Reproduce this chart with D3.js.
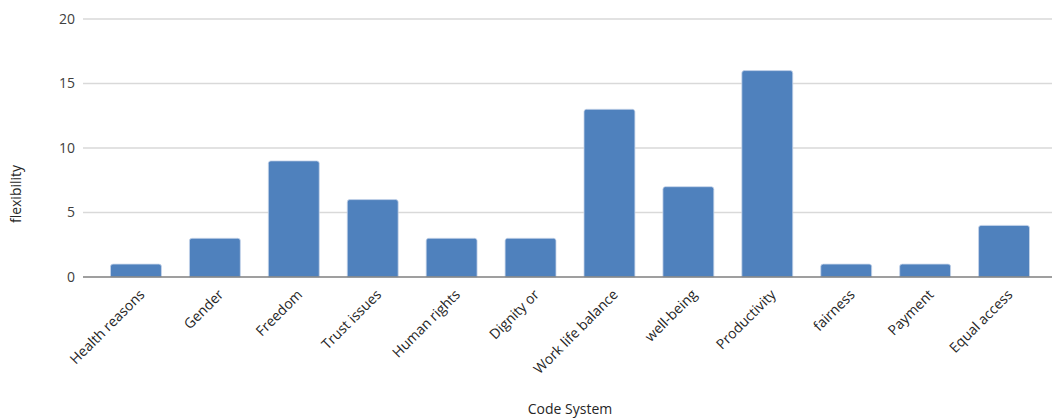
<!DOCTYPE html>
<html>
<head>
<meta charset="utf-8">
<script src="https://cdn.jsdelivr.net/npm/d3@7"></script>
<style>
  html, body { margin: 0; padding: 0; background: #fff; }
  svg { display: block; font-family: "Open Sans", Lato, sans-serif; }
</style>
</head>
<body>
<svg id="chart" width="1052" height="420"></svg>
<script>
// Coded segments per category
const categories = ["Health reasons", "Gender", "Freedom", "Trust issues", "Human rights", "Dignity or",
  "Work life balance", "well-being", "Productivity", "fairness", "Payment", "Equal access"];
const values = [1, 3, 9, 6, 3, 3, 13, 7, 16, 1, 1, 4];
const yTicks = [0, 5, 10, 15, 20];
const yTitle = "flexibility";
const xTitle = "Code System";

const svg = d3.select("#chart");
const plot = { left: 83, right: 1052, top: 19, bottom: 277 };

const x = d3.scaleBand()
  .domain(categories)
  .range([96.5, 1043.5])
  .paddingInner(0.355)
  .paddingOuter(0.1775);

const y = d3.scaleLinear()
  .domain([0, 20])
  .range([plot.bottom, plot.top]);

// horizontal gridlines
svg.append("g")
  .selectAll("line")
  .data(yTicks.filter(d => d !== 0))
  .join("line")
  .attr("x1", plot.left).attr("x2", plot.right)
  .attr("y1", d => y(d)).attr("y2", d => y(d))
  .attr("stroke", "#d9d9d9").attr("stroke-width", 1.3);

// y tick labels
svg.append("g")
  .selectAll("text")
  .data(yTicks)
  .join("text")
  .attr("x", 75).attr("y", d => y(d))
  .attr("dy", "0.35em")
  .attr("text-anchor", "end")
  .attr("font-size", 14)
  .attr("fill", "#404040")
  .text(d => d);

// bars
svg.append("g")
  .selectAll("path")
  .data(values)
  .join("path")
  .attr("d", (d, i) => {
    const x0 = x(categories[i]), w = x.bandwidth();
    const y0 = y(d), y1 = y(0), r = 2.5;
    return `M${x0},${y1}V${y0 + r}Q${x0},${y0} ${x0 + r},${y0}H${x0 + w - r}Q${x0 + w},${y0} ${x0 + w},${y0 + r}V${y1}Z`;
  })
  .attr("fill", "#4f81bd")
  .attr("stroke", "#c6d4ea")
  .attr("stroke-width", 0.8);

// baseline
svg.append("line")
  .attr("x1", plot.left).attr("x2", plot.right)
  .attr("y1", y(0)).attr("y2", y(0))
  .attr("stroke", "#7f7f7f").attr("stroke-width", 1.3);

// category labels
svg.append("g")
  .selectAll("text")
  .data(categories)
  .join("text")
  .attr("transform", d => `translate(${x(d) + x.bandwidth() / 2 + 6},${y(0) + 15}) rotate(-45)`)
  .attr("text-anchor", "end")
  .attr("dy", "0.35em")
  .attr("font-size", 14)
  .attr("fill", "#262626")
  .text(d => d);

// axis titles
svg.append("text")
  .attr("transform", "translate(21,194) rotate(-90)")
  .attr("text-anchor", "middle")
  .attr("font-size", 14)
  .attr("fill", "#262626")
  .text(yTitle);

svg.append("text")
  .attr("x", 570).attr("y", 414)
  .attr("text-anchor", "middle")
  .attr("font-size", 14)
  .attr("fill", "#262626")
  .text(xTitle);
</script>
</body>
</html>
